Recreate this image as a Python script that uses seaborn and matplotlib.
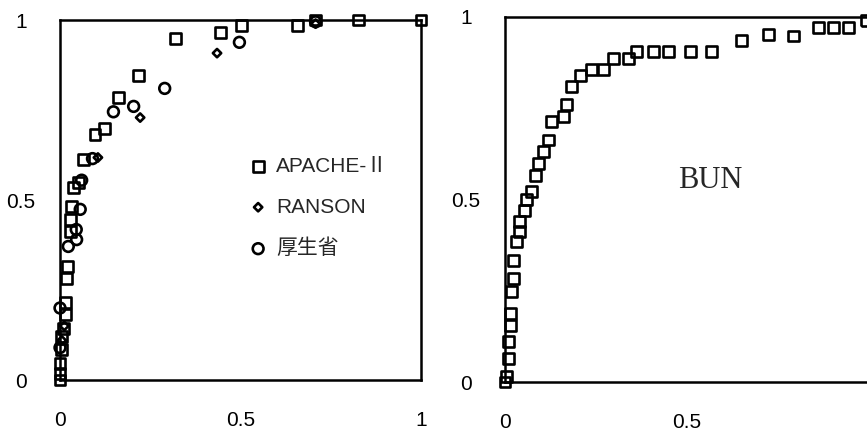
import matplotlib
matplotlib.use("Agg")
import matplotlib.pyplot as plt
import seaborn as sns
import pandas as pd

# ---- data ----
apache_x = [0.0, 0.0, 0.0, 0.003, 0.005, 0.01, 0.015, 0.015, 0.018, 0.022, 0.028, 0.028,
            0.032, 0.037, 0.051, 0.065, 0.097, 0.122, 0.162, 0.218, 0.319, 0.444, 0.502,
            0.657, 0.708, 0.828, 1.0]
apache_y = [0.0, 0.019, 0.047, 0.085, 0.121, 0.144, 0.181, 0.214, 0.283, 0.316, 0.413, 0.446,
            0.483, 0.534, 0.548, 0.613, 0.682, 0.698, 0.785, 0.847, 0.949, 0.965, 0.986,
            0.984, 1.0, 1.0, 1.0]

ranson_x = [0.005, 0.012, 0.105, 0.222, 0.435, 0.708]
ranson_y = [0.11, 0.15, 0.618, 0.729, 0.908, 0.99]

kosei_x = [0.0, 0.0, 0.023, 0.046, 0.045, 0.056, 0.06, 0.09, 0.148, 0.204, 0.29, 0.497, 0.708]
kosei_y = [0.09, 0.2, 0.371, 0.39, 0.418, 0.474, 0.555, 0.615, 0.745, 0.76, 0.81, 0.938, 0.995]

bun_x = [0.0, 0.005, 0.009, 0.009, 0.014, 0.014, 0.018, 0.023, 0.023, 0.032, 0.041, 0.041,
         0.055, 0.06, 0.074, 0.083, 0.092, 0.106, 0.119, 0.129, 0.161, 0.17, 0.184, 0.207,
         0.239, 0.271, 0.298, 0.34, 0.363, 0.409, 0.45, 0.51, 0.569, 0.652, 0.725, 0.795,
         0.863, 0.904, 0.946, 0.995]
bun_y = [0.0, 0.015, 0.065, 0.11, 0.156, 0.188, 0.247, 0.284, 0.334, 0.384, 0.412, 0.439,
         0.471, 0.499, 0.521, 0.567, 0.599, 0.631, 0.663, 0.713, 0.727, 0.759, 0.809, 0.841,
         0.855, 0.855, 0.887, 0.887, 0.905, 0.905, 0.905, 0.905, 0.905, 0.935, 0.951, 0.948,
         0.972, 0.972, 0.972, 0.99]

labels_left = ["APACHE-Ⅱ", "RANSON", "厚生省"]
tick_pos = [0, 0.25, 0.5, 0.75, 1]
tick_lab = ["0", "", "0.5", "", "1"]
tick_lab_right_x = ["0", "", "0.5", "", ""]
panel_label = "BUN"

# ---- style ----
sns.set_style("white")
plt.rcParams["font.family"] = ["Liberation Sans", "Noto Sans CJK JP", "DejaVu Sans"]

fig = plt.figure(figsize=(8.67, 4.32), dpi=100)
ax1 = fig.add_axes([60 / 867, 52 / 432, 361 / 867, 360 / 432])
ax2 = fig.add_axes([505 / 867, 50 / 432, 363 / 867, 365 / 432])

mk = dict(facecolor="none", edgecolor="black", linewidth=1.9, clip_on=False, zorder=3)

df_k = pd.DataFrame({"x": kosei_x, "y": kosei_y})
df_r = pd.DataFrame({"x": ranson_x, "y": ranson_y})
df_a = pd.DataFrame({"x": apache_x, "y": apache_y})
df_b = pd.DataFrame({"x": bun_x, "y": bun_y})

sns.scatterplot(data=df_k, x="x", y="y", marker="o", s=60, label=labels_left[2], ax=ax1, **mk)
sns.scatterplot(data=df_r, x="x", y="y", marker="D", s=18, label=labels_left[1], ax=ax1, **mk)
sns.scatterplot(data=df_a, x="x", y="y", marker="s", s=62, label=labels_left[0], ax=ax1, **mk)
sns.scatterplot(data=df_b, x="x", y="y", marker="s", s=62, ax=ax2, **mk)

for ax, xl in ((ax1, tick_lab), (ax2, tick_lab_right_x)):
    ax.set_xlim(0, 1)
    ax.set_ylim(0, 1)
    ax.set_xlabel("")
    ax.set_ylabel("")
    ax.set_xticks(tick_pos)
    ax.set_xticklabels(xl)
    ax.set_yticks(tick_pos)
    ax.set_yticklabels(tick_lab)
    for sp in ax.spines.values():
        sp.set_visible(True)
        sp.set_color("black")
        sp.set_linewidth(1.8)
    ax.tick_params(axis="both", direction="out", length=4, width=1.4, color="black",
                   labelsize=15, labelcolor="black")
    ax.tick_params(axis="x", pad=18)
    ax.tick_params(axis="y", pad=24)
    for lbl in ax.get_yticklabels():
        lbl.set_horizontalalignment("center")

ax2.text(0.565, 0.553, panel_label, family="Liberation Serif", fontsize=22,
         ha="center", va="center", transform=ax2.transData)

h, l = ax1.get_legend_handles_labels()
order = [l.index(s) for s in labels_left]
ax1.legend([h[i] for i in order], [l[i] for i in order], loc="upper left",
           bbox_to_anchor=(0.52, 0.62), frameon=False, fontsize=15, borderpad=0,
           handlelength=1.0, handletextpad=0.35, labelspacing=1.05, borderaxespad=0)
if ax2.get_legend() is not None:
    ax2.get_legend().remove()

fig.savefig("out.png", dpi=100)
